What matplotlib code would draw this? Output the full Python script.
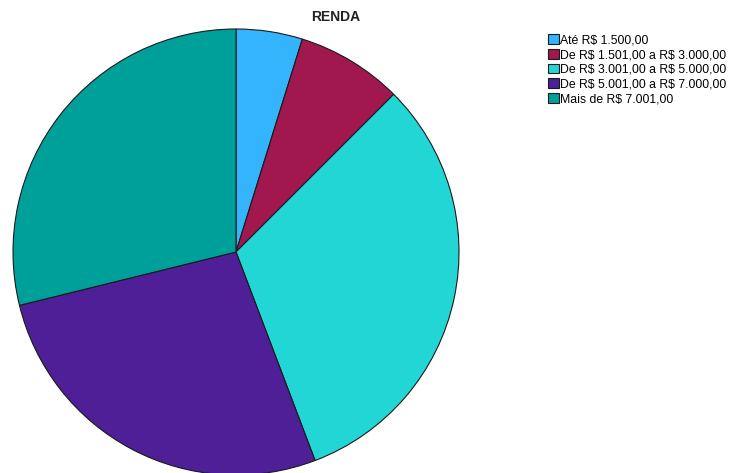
import matplotlib.pyplot as plt

plt.rcParams["font.family"] = ["Liberation Sans", "DejaVu Sans"]

categories = [
    "Até R$ 1.500,00",
    "De R$ 1.501,00 a R$ 3.000,00",
    "De R$ 3.001,00 a R$ 5.000,00",
    "De R$ 5.001,00 a R$ 7.000,00",
    "Mais de R$ 7.001,00",
]
counts = [5, 8, 33, 28, 30]
colors = ["#33b4fc", "#a0184e", "#22d6d6", "#4e1f96", "#00a09a"]

W, H = 730, 473
fig = plt.figure(figsize=(W / 100, H / 100), dpi=100)

cx, cy, r = 236, 252, 223
ax = fig.add_axes([(cx - r) / W, (H - cy - r) / H, 2 * r / W, 2 * r / H])
wedges, _ = ax.pie(
    counts,
    colors=colors,
    startangle=90,
    counterclock=False,
    radius=1,
    wedgeprops=dict(edgecolor="#1a1a1a", linewidth=0.8),
)
ax.set_xlim(-1, 1)
ax.set_ylim(-1, 1)
ax.set_aspect("auto")
ax.axis("off")

fig.text(336 / W, 1 - 17 / H, "RENDA", ha="center", va="center",
         fontsize=10, fontweight="bold", color="#222222")

labels = [c.replace("$", r"\$") for c in categories]
fig.legend(
    wedges, labels,
    loc="upper left",
    bbox_to_anchor=(542 / W, 1 - 28 / H),
    frameon=False,
    fontsize=8.8,
    handlelength=0.85,
    handleheight=0.85,
    handletextpad=0.15,
    labelspacing=0.22,
    borderpad=0,
)

fig.savefig("out.png", dpi=100)
